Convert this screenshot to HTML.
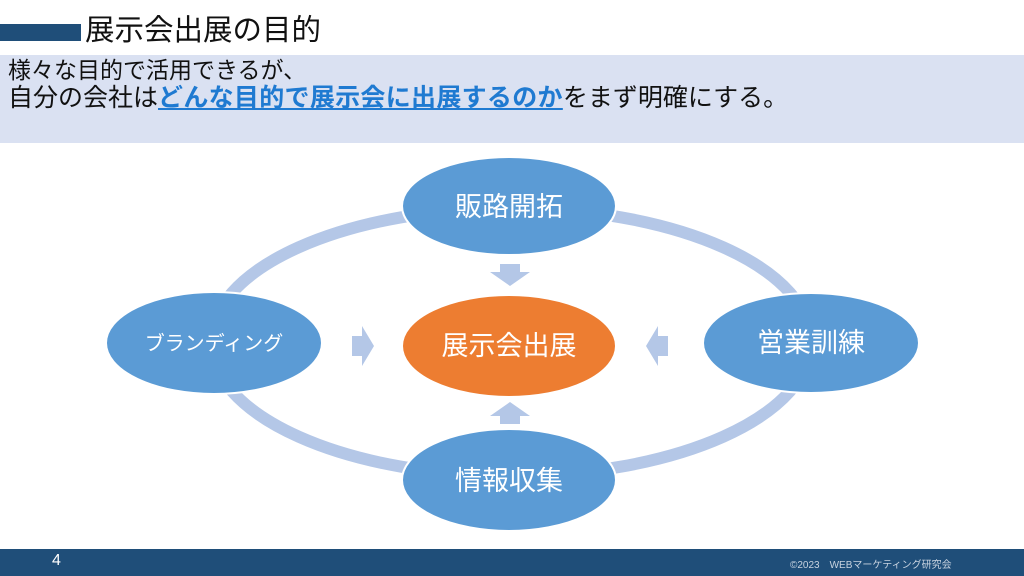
<!DOCTYPE html>
<html><head><meta charset="utf-8"><style>
body{margin:0;width:1024px;height:576px;overflow:hidden;background:#fff;font-family:"Liberation Sans","Noto Sans CJK JP",sans-serif;position:relative}
.bar{position:absolute;left:0;top:24px;width:81px;height:17px;background:#1f4e79}
.title{position:absolute;left:85px;top:12px;font-size:29.5px;color:#111;line-height:38px}
.band{position:absolute;left:0;top:55px;width:1024px;height:88px;background:#dae1f2}
.txt{position:absolute;left:8px;top:56px;font-size:23px;line-height:28px;color:#111;white-space:nowrap}
.l2{font-size:25px}
.hl{color:#1f7ad1;font-weight:bold;text-decoration:underline;letter-spacing:0.3px}
.foot{position:absolute;left:0;top:549px;width:1024px;height:27px;background:#1f4e79}
</style></head><body>
<div class="bar"></div><div class="title">展示会出展の目的</div>
<div class="band"></div>
<div class="txt">様々な目的で活用できるが、<br><span class="l2">自分の会社は<span class="hl">どんな目的で展示会に出展するのか</span>をまず明確にする。</span></div>
<svg style="position:absolute;left:0;top:0" width="1024" height="576">
<ellipse cx="511" cy="342" rx="300" ry="134" fill="none" stroke="#b4c7e7" stroke-width="12"/>
<g fill="#b4c7e7">
<polygon points="500,264 520,264 520,272 530,272 510,286 490,272 500,272"/>
<polygon points="500,424 520,424 520,416 530,416 510,402 490,416 500,416"/>
<polygon points="352,336 362,336 362,326 374,346 362,366 362,356 352,356"/>
<polygon points="668,336 658,336 658,326 646,346 658,366 658,356 668,356"/>
</g>
<g fill="#5b9bd5" stroke="#fff" stroke-width="2">
<ellipse cx="509" cy="206" rx="107" ry="49"/>
<ellipse cx="811" cy="343" rx="108" ry="50"/>
<ellipse cx="214" cy="343" rx="108" ry="51"/>
<ellipse cx="509" cy="480" rx="107" ry="51"/>
<ellipse cx="509" cy="346" rx="107" ry="51" fill="#ed7d31"/>
</g>
<g fill="#fff" font-family="Liberation Sans,Noto Sans CJK JP,sans-serif" text-anchor="middle">
<text x="509" y="216" font-size="27">販路開拓</text>
<text x="811" y="352" font-size="27">営業訓練</text>
<text x="214" y="350" font-size="20">ブランディング</text>
<text x="509" y="490" font-size="27">情報収集</text>
<text x="509" y="355" font-size="27">展示会出展</text>
</g>
</svg>
<div class="foot"><span style="position:absolute;left:52px;top:3px;color:#fff;font-size:16px">4</span><span style="position:absolute;left:790px;top:7px;color:#c8d3e0;font-size:10px">©2023　WEBマーケティング研究会</span></div>
</body></html>
